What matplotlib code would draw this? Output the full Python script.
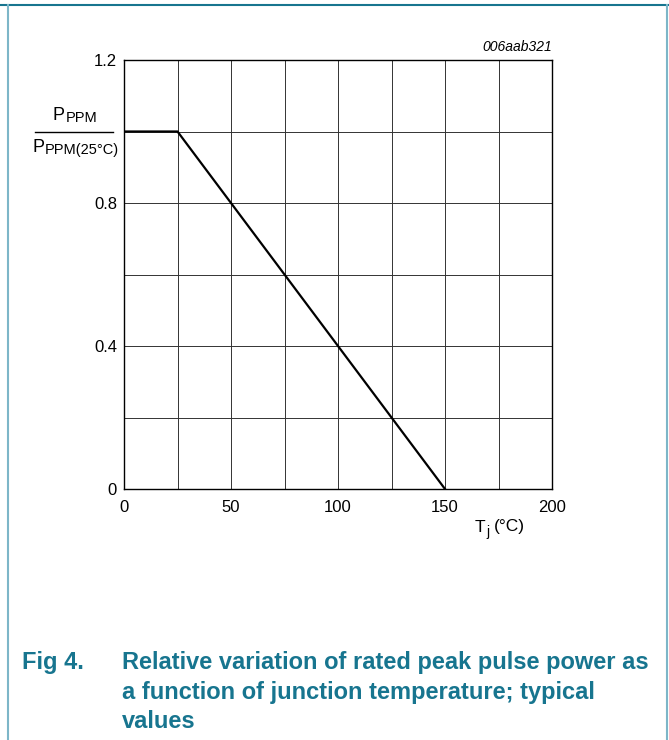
import numpy as np
import matplotlib.pyplot as plt
from matplotlib.lines import Line2D

plt.rcParams['font.family'] = ['Liberation Sans', 'DejaVu Sans']

# derating curve: relative peak pulse power vs junction temperature
tj = [0, 25, 150]
p_rel = [1.0, 1.0, 0.0]

x_ticks = [0, 50, 100, 150, 200]
y_ticks = [0, 0.4, 0.8, 1.2]
x_grid = np.arange(0, 201, 25)
y_grid = np.arange(0, 1.21, 0.2)

teal = '#17758f'
frame_light = '#7db6c8'

fig = plt.figure(figsize=(6.69, 7.40), dpi=100)
ax = fig.add_axes([124/669, 1 - 489/740, 428/669, 429/740])

for xv in x_grid:
    ax.axvline(xv, color='#333333', lw=0.7, zorder=1)
for yv in y_grid:
    ax.axhline(yv, color='#333333', lw=0.7, zorder=1)

ax.plot(tj, p_rel, color='black', lw=1.6, zorder=3)

ax.set_xlim(0, 200)
ax.set_ylim(0, 1.2)
ax.set_xticks(x_ticks)
ax.set_yticks(y_ticks)
ax.set_xticklabels([str(v) for v in x_ticks])
ax.set_yticklabels(['0', '0.4', '0.8', '1.2'])
ax.tick_params(length=0, labelsize=12)
ax.tick_params(axis='x', pad=8)
ax.tick_params(axis='y', pad=5)
for s in ax.spines.values():
    s.set_linewidth(1.0)
    s.set_zorder(4)

# y label as fraction
fig.text(53/669, 1 - 116/740, 'P', fontsize=13, ha='left', va='center')
fig.text(66/669, 1 - 118/740, 'PPM', fontsize=10.5, ha='left', va='center')
fig.add_artist(Line2D([35/669, 113/669], [1 - 132/740, 1 - 132/740],
                      color='black', lw=1.0, transform=fig.transFigure))
fig.text(33/669, 1 - 147/740, 'P', fontsize=13, ha='left', va='center')
fig.text(45/669, 1 - 150/740, 'PPM(25°C)', fontsize=10.5, ha='left', va='center')

# x label
fig.text(475/669, 1 - 527/740, 'T', fontsize=12.5, ha='left', va='center')
fig.text(486/669, 1 - 532/740, 'j', fontsize=10, ha='left', va='center')
fig.text(494/669, 1 - 527/740, '(°C)', fontsize=12.5, ha='left', va='center')

fig.text(552/669, 1 - 47/740, '006aab321', fontsize=10, style='italic',
         ha='right', va='center')

# caption
fig.text(22/669, 1 - 663/740, 'Fig 4.', fontsize=17, fontweight='bold',
         color=teal, ha='left', va='center')
caption = ['Relative variation of rated peak pulse power as',
           'a function of junction temperature; typical',
           'values']
for i, line in enumerate(caption):
    fig.text(122/669, 1 - (663 + 29*i)/740, line, fontsize=17,
             fontweight='bold', color=teal, ha='left', va='center')

# page frame
fig.add_artist(Line2D([0, 1], [1 - 5/740, 1 - 5/740], color=teal, lw=1.5,
                      transform=fig.transFigure))
fig.add_artist(Line2D([7.5/669, 7.5/669], [0, 1 - 5/740], color=frame_light,
                      lw=1.5, transform=fig.transFigure))
fig.add_artist(Line2D([666.5/669, 666.5/669], [0, 1 - 5/740], color=frame_light,
                      lw=1.5, transform=fig.transFigure))

fig.savefig('out.png', dpi=100)
